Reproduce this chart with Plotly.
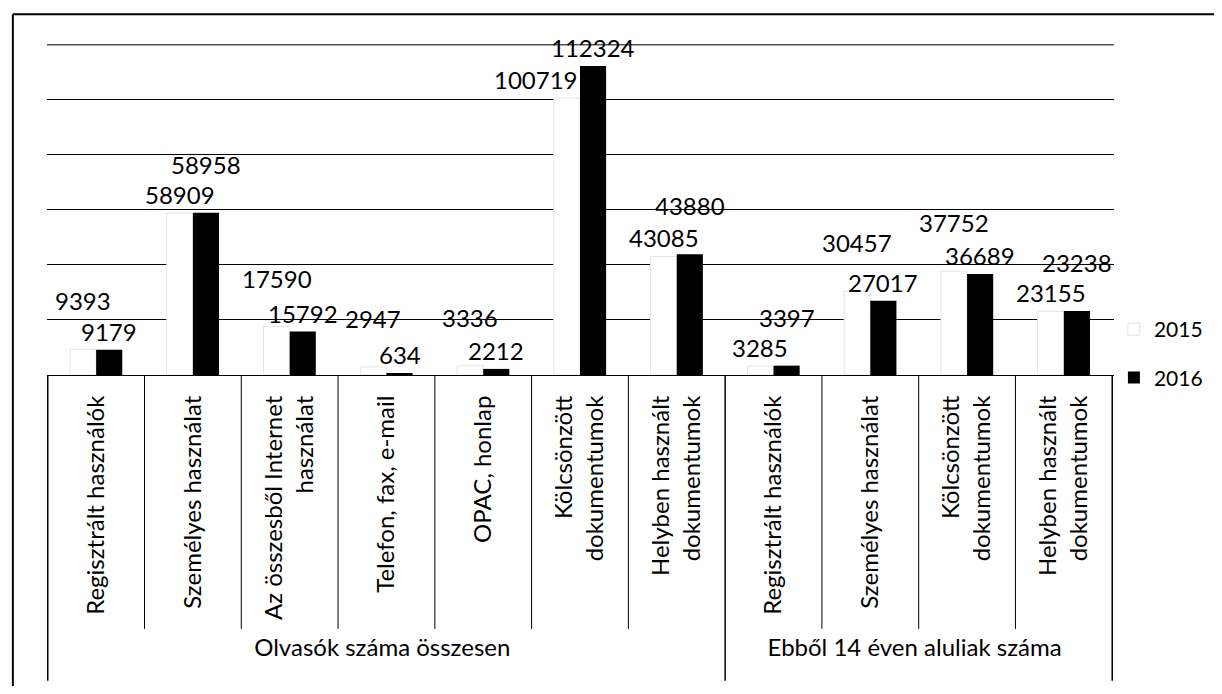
import plotly.graph_objects as go

groups = ["Olvasók száma összesen"] * 7 + ["Ebből 14 éven aluliak száma"] * 4
categories = [
    "Regisztrált használók",
    "Személyes használat",
    "Az összesből Internet<br>használat",
    "Telefon, fax, e-mail",
    "OPAC, honlap",
    "Kölcsönzött<br>dokumentumok",
    "Helyben használt<br>dokumentumok",
    "Regisztrált használók",
    "Személyes használat",
    "Kölcsönzött<br>dokumentumok",
    "Helyben használt<br>dokumentumok",
]
values_2015 = [9393, 58909, 17590, 2947, 3336, 100719, 43085, 3285, 30457, 37752, 23155]
values_2016 = [9179, 58958, 15792, 634, 2212, 112324, 43880, 3397, 27017, 36689, 23238]
series_names = ["2015", "2016"]

FONT = "Lato"
n = len(categories)
X = [groups, categories]
BARGAP = 0.46
half_bar = (1 - BARGAP) / 4  # centre of each bar relative to its category

fig = go.Figure()
fig.add_trace(go.Bar(
    name=series_names[0], x=X, y=values_2015,
    marker=dict(color="white", line=dict(color="#e4e4e4", width=1)),
    legendgroup="a",
))
fig.add_trace(go.Bar(
    name=series_names[1], x=X, y=values_2016,
    marker=dict(color="black", line=dict(color="black", width=0)),
    legendgroup="b",
))

# value labels above the bars
for side, vals, other in [(-1, values_2015, values_2016), (1, values_2016, values_2015)]:
    for i, (v, o) in enumerate(zip(vals, other)):
        lift = 30 if (v > o and v - o < 10000) else 0
        if o - v > 10000:
            # the neighbouring bar is much taller: put the label beside it
            xa, xpos = ("right" if side < 0 else "left"), i
        else:
            xa, xpos = "center", i + side * half_bar
        fig.add_annotation(
            x=xpos, y=v, xref="x", yref="y", text=str(v), showarrow=False,
            xanchor=xa, yanchor="bottom", yshift=2 + lift,
            font=dict(size=24, color="black", family=FONT),
        )

fig.update_layout(
    width=1206, height=678,
    margin=dict(l=39, r=100, t=36, b=311),
    paper_bgcolor="white", plot_bgcolor="white",
    font=dict(family=FONT, size=24, color="black"),
    barmode="group", bargap=BARGAP, bargroupgap=0,
    showlegend=True,
    legend=dict(xref="container", yref="container", x=0.917, xanchor="left",
                y=0.556, yanchor="top",
                font=dict(size=21, family=FONT), traceorder="grouped",
                tracegroupgap=18, bgcolor="rgba(0,0,0,0)"),
)
fig.update_xaxes(
    type="multicategory", tickangle=-90, showline=True, linecolor="black",
    linewidth=1, ticks="", showdividers=False, ticklabelstandoff=10,
    tickfont=dict(size=24, family=FONT, color="black"),
    automargin=False, showgrid=False,
)
fig.update_yaxes(
    range=[0, 120300], dtick=20000, showgrid=True, gridcolor="black",
    gridwidth=1, showticklabels=False, zeroline=False, showline=False,
    automargin=False,
)
# top gridline (at the axis maximum tick)
fig.add_shape(type="line", xref="paper", yref="y", x0=0, x1=1,
              y0=120000, y1=120000, layer="below",
              line=dict(color="black", width=1))

# category table dividers below the axis
group_bounds = [-0.5, 6.5, n - 0.5]
for k in range(n - 1):
    pos = k + 0.5
    if pos in group_bounds:
        continue
    fig.add_shape(type="line", xref="x", yref="paper", x0=pos, x1=pos,
                  y0=0, y1=-0.767, line=dict(color="black", width=1))
for pos in group_bounds:
    fig.add_shape(type="line", xref="x", yref="paper", x0=pos, x1=pos,
                  y0=0, y1=-0.924, line=dict(color="black", width=1.5))

# outer frame of the chart area (left and top edges)
fig.add_shape(type="line", xref="paper", yref="paper", x0=-0.032, x1=1.2,
              y0=1.09, y1=1.09, line=dict(color="black", width=2))
fig.add_shape(type="line", xref="paper", yref="paper", x0=-0.032, x1=-0.032,
              y0=1.09, y1=-0.99, line=dict(color="black", width=2))

fig.write_html("out.html")
